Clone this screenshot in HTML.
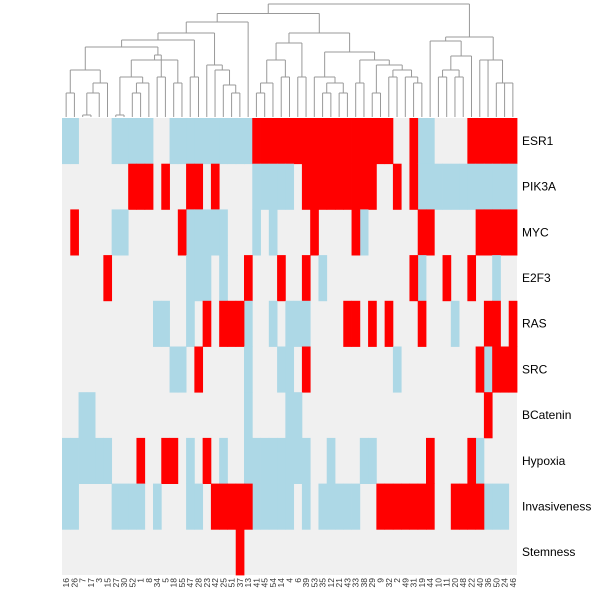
<!DOCTYPE html>
<html><head><meta charset="utf-8"><style>
html,body{margin:0;padding:0;background:#fff;}
svg{display:block;font-family:"Liberation Sans",sans-serif;}
</style></head><body>
<svg id="chart" width="600" height="600">
<g id="dendro"></g>
<g id="cells"></g>
<g id="rowlabels"></g>
<g id="collabels"></g>
</svg>
<script>
const columns = ["16","26","7","17","3","15","27","30","52","1","8","34","5","18","55","47","28","23","42","25","51","37","13","41","45","54","14","4","6","39","53","35","12","21","43","33","38","29","9","32","2","49","31","19","44","10","11","20","48","22","40","36","50","24","46"];
const rows = ["ESR1","PIK3A","MYC","E2F3","RAS","SRC","BCatenin","Hypoxia","Invasiveness","Stemness"];
const blueCells = [
 [0,1,6,7,8,9,10,13,14,15,16,17,18,19,20,21,22,43,44],
 [23,24,25,26,27,43,44,45,46,47,48,49,50,51,52,53,54],
 [6,7,15,16,17,18,19,23,25,36],
 [15,16,17,19,31,43,52],
 [11,12,15,22,25,27,28,29,47],
 [13,14,22,26,27,40,51],
 [2,3,22,27,28],
 [0,1,2,3,4,5,15,19,22,23,24,25,26,27,28,29,32,36,37,50],
 [0,1,6,7,8,9,11,15,16,23,24,25,26,27,29,31,32,33,34,35,51,52,53],
 []
];
const redCells = [
 [23,24,25,26,27,28,29,30,31,32,33,34,35,36,37,38,39,42,49,50,51,52,53,54],
 [8,9,10,12,15,16,18,29,30,31,32,33,34,35,36,37,40,42],
 [1,14,30,35,43,44,50,51,52,53,54],
 [5,22,26,29,42,46,49],
 [17,19,20,21,34,35,37,39,43,51,52,54],
 [16,29,50,52,53,54],
 [51],
 [9,12,13,17,44,49],
 [18,19,20,21,22,38,39,40,41,42,43,44,47,48,49,50],
 [21]
];
// dendrogram merges: [left, right, mergeY]
const dL1 = [[0,1,93],[[[2,3,115],4,93],5,83],70];
const dL2 = [[[6,7,115],[[8,9,93],10,83],77],[13,14,83],60];
const dL3 = [dL1,[dL2,[11,12,77],55],47];
const dL4 = [dL3,[15,16,77],40];
const dL5 = [dL4,[17,[18,[19,[20,21,93],85],70],65],33];
const dLeft = [dL5,22,22];
const dMa = [[[[23,24,93],25,83],[26,27,77],60],[28,29,77],43];
const dMb2 = [[35,36,83],[[37,38,93],[[39,40,77],[41,[42,43,83],77],70],65],60];
const dMb = [[30,[[31,32,93],[33,34,93],83],77],dMb2,52];
const dMid = [dMa,dMb,33];
const dRight = [[44,[[[45,46,77],[47,48,77],70],49,56],41],[[50,51,60],[52,[53,54,83],83],60],37];
const dendroTree = [[dLeft,dMid,13.5],dRight,4];

const NS="http://www.w3.org/2000/svg";
const X0=62, X1=517, Y0=118, Y1=575, LEAFY=117;
const cw=(X1-X0)/columns.length, rh=(Y1-Y0)/rows.length;
const xs=i=>X0+i*cw, ys=r=>Y0+r*rh;
const colors=["#f0f0f0","#add8e6","#ff0000"];
const cells=document.getElementById('cells');
const bg=document.createElementNS(NS,'rect');
bg.setAttribute('x',X0);bg.setAttribute('y',Y0);bg.setAttribute('width',X1-X0);bg.setAttribute('height',Y1-Y0);bg.setAttribute('fill',colors[0]);


cells.appendChild(bg);
function drawCell(r,c,v){
  const el=document.createElementNS(NS,'rect');
  el.setAttribute('x',xs(c));el.setAttribute('y',ys(r));
  el.setAttribute('width',cw+0.4);el.setAttribute('height',rh+0.4);
  el.setAttribute('fill',colors[v]);
  
  
  cells.appendChild(el);
}
rows.forEach((rn,r)=>{
  blueCells[r].forEach(c=>drawCell(r,c,1));
  redCells[r].forEach(c=>drawCell(r,c,2));
  const t=document.createElementNS(NS,'text');
  t.setAttribute('x',522);t.setAttribute('y',ys(r)+rh/2+4);
  t.setAttribute('font-size','12');t.setAttribute('fill','#000');
  t.textContent=rn;
  
  
  document.getElementById('rowlabels').appendChild(t);
});
columns.forEach((cn,c)=>{
  const t=document.createElementNS(NS,'text');
  const x=xs(c)+cw/2+3, y=578;
  t.setAttribute('transform','translate('+x+','+y+') rotate(-90)');
  t.setAttribute('text-anchor','end');
  t.setAttribute('font-size','8.5');t.setAttribute('fill','#333');
  t.textContent=cn;
  
  
  document.getElementById('collabels').appendChild(t);
});
const dg=document.getElementById('dendro');
function line(x1,y1,x2,y2){
  const l=document.createElementNS(NS,'line');
  l.setAttribute('x1',x1);l.setAttribute('y1',y1);l.setAttribute('x2',x2);l.setAttribute('y2',y2);
  l.setAttribute('stroke','#999');l.setAttribute('stroke-width','1');
  
  
  dg.appendChild(l);
}
function walk(n){
  if(typeof n==='number') return {x:xs(n)+cw/2,y:LEAFY};
  if(!Array.isArray(n)) return {x:X0,y:LEAFY};
  const a=walk(n[0]), b=walk(n[1]), h=n[2];
  line(a.x,a.y,a.x,h);line(b.x,b.y,b.x,h);line(a.x,h,b.x,h);
  return {x:(a.x+b.x)/2,y:h};
}
try{ walk(dendroTree); }catch(e){}
</script>
</body></html>
